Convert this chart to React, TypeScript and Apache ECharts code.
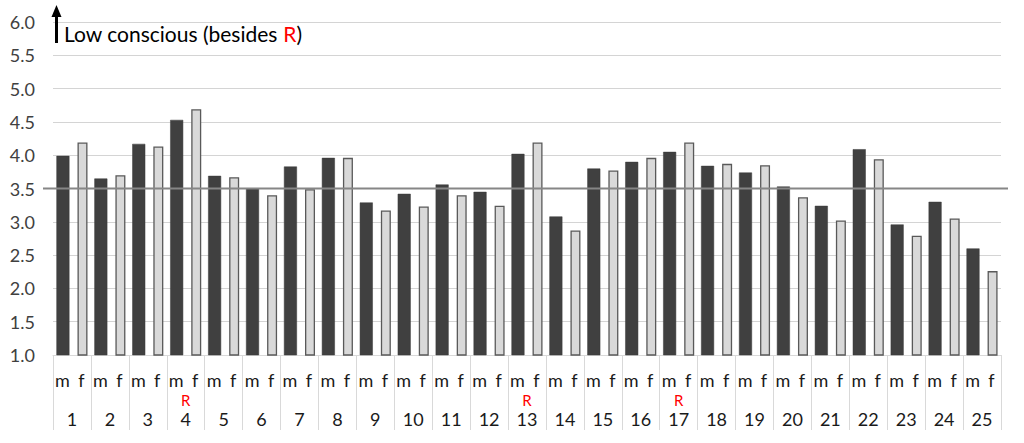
import React, { useEffect, useRef } from "react";
import * as echarts from "echarts";

const categories = ["1","2","3","4","5","6","7","8","9","10","11","12","13","14","15","16","17","18","19","20","21","22","23","24","25"];
const sexLabels = ["m", "f"];
const rGroups = ["4", "13", "17"];
const mValues = [3.99, 3.65, 4.17, 4.53, 3.69, 3.50, 3.83, 3.96, 3.29, 3.42, 3.56, 3.45, 4.02, 3.08, 3.80, 3.90, 4.05, 3.84, 3.74, 3.53, 3.24, 4.09, 2.96, 3.30, 2.60];
const fValues = [4.19, 3.70, 4.13, 4.69, 3.67, 3.40, 3.49, 3.96, 3.17, 3.23, 3.40, 3.24, 4.19, 2.87, 3.77, 3.96, 4.19, 3.87, 3.85, 3.37, 3.02, 3.94, 2.79, 3.05, 2.26];
const referenceValue = 3.5;
const yMin = 1.0;
const yMax = 6.0;
const yStep = 0.5;
const titleText = "Low conscious (besides ";

const FONT = "Lato";

export default function App() {
  const ref = useRef<HTMLDivElement>(null);
  useEffect(() => {
    if (!ref.current) return;
    const chart = echarts.init(ref.current, undefined, { renderer: "svg" });
    const sexAxisData: string[] = [];
    categories.forEach(() => sexLabels.forEach((s) => sexAxisData.push(s)));
    const rAxisData = categories.map((c) => (rGroups.includes(c) ? "R" : ""));
    chart.setOption({
      animation: false,
      backgroundColor: "#ffffff",
      textStyle: { fontFamily: FONT },
      grid: { left: 53, right: 23, top: 22, bottom: 88, containLabel: false },
      xAxis: [
        {
          type: "category",
          data: categories,
          position: "bottom",
          offset: 0,
          axisLine: { show: true, lineStyle: { color: "#d9d9d9", width: 1 } },
          axisTick: { show: true, length: 75, interval: 0, lineStyle: { color: "#d9d9d9", width: 1 } },
          axisLabel: { interval: 0, margin: 55, fontSize: 18, lineHeight: 18, color: "#1a1a1a", fontFamily: FONT },
          splitLine: { show: false },
        },
        {
          type: "category",
          data: sexAxisData,
          position: "bottom",
          offset: 0,
          axisLine: { show: false },
          axisTick: { show: false },
          axisLabel: { interval: 0, margin: 16, fontSize: 18, lineHeight: 18, color: "#1a1a1a", fontFamily: FONT },
          splitLine: { show: false },
        },
        {
          type: "category",
          data: rAxisData,
          position: "bottom",
          offset: 0,
          axisLine: { show: false },
          axisTick: { show: false },
          axisLabel: { interval: 0, margin: 37, fontSize: 15, lineHeight: 15, color: "#ff0000", fontFamily: FONT },
          splitLine: { show: false },
        },
      ],
      yAxis: {
        type: "value",
        min: yMin,
        max: yMax,
        interval: yStep,
        axisLine: { show: false },
        axisTick: { show: false },
        axisLabel: {
          margin: 18,
          fontSize: 18,
          color: "#404040",
          fontFamily: FONT,
          formatter: (v: number) => v.toFixed(1),
        },
        splitLine: { show: true, lineStyle: { color: "#d4d4d4", width: 1.2 } },
      },
      series: [
        {
          name: "m",
          type: "bar",
          xAxisIndex: 0,
          data: mValues,
          barWidth: 13,
          barGap: "62%",
          itemStyle: { color: "#404040", borderColor: "#3a3a3a", borderWidth: 0.5 },
        },
        {
          name: "f",
          type: "bar",
          xAxisIndex: 0,
          data: fValues,
          barWidth: 10,
          itemStyle: { color: "#d9d9d9", borderColor: "#595959", borderWidth: 1.3 },
        },
      ],
    });

    const yRef = chart.convertToPixel({ yAxisIndex: 0 }, referenceValue) as number;
    const xLeft = chart.convertToPixel({ xAxisIndex: 1 }, 0) as number;
    const arrowX = xLeft - 6;
    chart.setOption({
      graphic: {
        elements: [
          {
            type: "line",
            shape: { x1: 43, y1: yRef, x2: 1008, y2: yRef },
            style: { stroke: "#868686", lineWidth: 2 },
            z: 10,
          },
          {
            type: "line",
            shape: { x1: arrowX, y1: 43, x2: arrowX, y2: 15 },
            style: { stroke: "#000000", lineWidth: 3 },
            z: 10,
          },
          {
            type: "polygon",
            shape: { points: [[arrowX - 5, 17], [arrowX + 5, 17], [arrowX, 5]] },
            style: { fill: "#000000" },
            z: 10,
          },
          {
            type: "text",
            x: 64,
            y: 33,
            z: 10,
            style: {
              text: titleText + "{r|R})",
              fontFamily: FONT,
              fontSize: 21,
              fill: "#000000",
              verticalAlign: "middle",
              align: "left",
              rich: { r: { fill: "#ff0000", color: "#ff0000", fontFamily: FONT, fontSize: 21 } },
            },
          },
        ],
      },
    });
    return () => chart.dispose();
  }, []);
  return <div ref={ref} style={{ position: "fixed", left: 0, top: 0, width: 1024, height: 443 }} />;
}
